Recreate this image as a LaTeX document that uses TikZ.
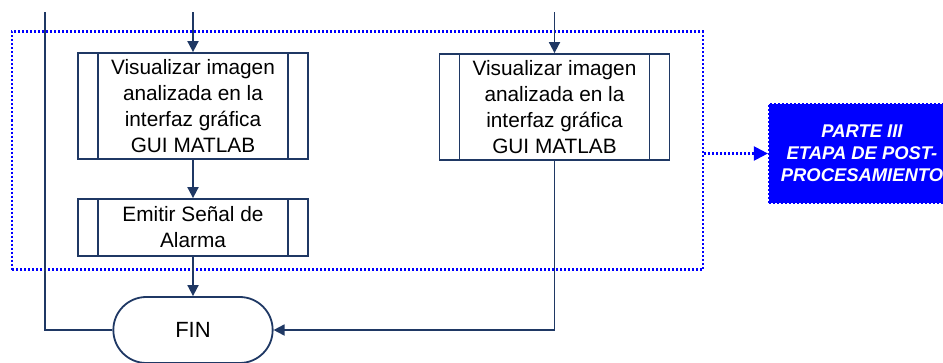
\documentclass[tikz,border=0pt]{standalone}
\usepackage{fontspec}
\setmainfont{Liberation Sans}
\usetikzlibrary{shapes.misc, arrows.meta, positioning, calc}
\definecolor{azulosc}{RGB}{31,56,100}
\definecolor{azulpart}{RGB}{0,0,255}

\begin{document}
\begin{tikzpicture}[x=1pt, y=-1pt,
    linea/.style={draw=azulosc, line width=1.8pt},
    flecha/.style={linea, -{Triangle[length=11pt, width=11pt]}},
    proceso/.style={draw=azulosc, line width=1.8pt, rectangle, minimum width=230pt,
        align=center, inner sep=0pt, font=\fontsize{20.8}{26}\selectfont,
        path picture={\draw[azulosc, line width=1.5pt]
            ([xshift=20pt]path picture bounding box.north west) -- ([xshift=20pt]path picture bounding box.south west)
            ([xshift=-20pt]path picture bounding box.north east) -- ([xshift=-20pt]path picture bounding box.south east);}},
    terminal/.style={draw=azulosc, line width=1.8pt, rounded rectangle, minimum width=166pt,
        minimum height=66pt, font=\fontsize{22}{26}\selectfont},
    punteada/.style={draw=azulpart, line width=2.2pt, dash pattern=on 2pt off 2pt},
    parte/.style={punteada, fill=azulpart, text=white, align=center, minimum width=186pt,
        minimum height=99pt, font=\bfseries\itshape\fontsize{18.4}{22}\selectfont}]
    \useasboundingbox (0,0) rectangle (943,362);
    \clip (0,0) rectangle (943,362);

    % etapa de visualizacion
    \node[punteada, minimum width=691pt, minimum height=238pt] (grupo) at (357.5,150.5) {};
    \node[proceso, minimum height=106pt] (visual1) at (193,106) {Visualizar imagen\\analizada en la\\interfaz gráfica\\GUI MATLAB};
    \node[proceso, minimum height=57pt] (alarma) at (193,227.5) {Emitir Señal de\\Alarma};
    \node[proceso, minimum height=106pt] (visual2) at (554.5,107) {Visualizar imagen\\analizada en la\\interfaz gráfica\\GUI MATLAB};
    \node[terminal] (fin) at (193,330) {FIN};
    \node[parte] (parte) at (862,153.5) {PARTE III\\ETAPA DE POST-\\PROCESAMIENTO};

    \coordinate (entra1) at (193,12);
    \coordinate (entra2) at (554.5,12);
    \coordinate (retorno) at (45,12);

    \draw[flecha] (entra1) -- (visual1);
    \draw[flecha] (entra2) -- (visual2);
    \draw[flecha] (visual1) -- (alarma);
    \draw[flecha] (alarma) -- (fin);
    \draw[flecha] (visual2) |- (fin);
    \draw[linea] (retorno) |- (fin);
    \draw[punteada, -{Triangle[length=14pt, width=14pt]}] (grupo.east |- parte.west) -- (parte.west);
\end{tikzpicture}
\end{document}
